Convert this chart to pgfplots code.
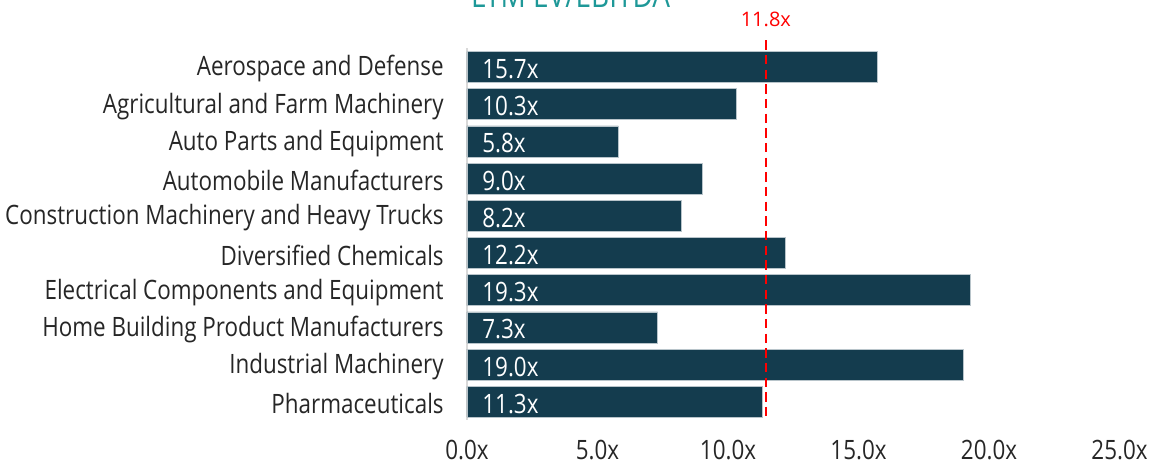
\documentclass[border=0pt]{standalone}
\usepackage{fontspec}
\setmainfont{Open Sans}[FakeStretch=0.84]
\newfontfamily\redfont{Open Sans}
\usepackage{pgfplots}
\pgfplotsset{compat=1.18}
\definecolor{barnavy}{HTML}{143C4E}
\definecolor{titleteal}{HTML}{1E9898}
\definecolor{axisgrey}{HTML}{D9D9D9}

\begin{document}
\begin{tikzpicture}
\path[use as bounding box] (0,0) rectangle (864.75pt,349.5pt);
\node[anchor=base, text=titleteal, font=\fontsize{25}{30}\selectfont] at (428pt,343.5pt) {LTM EV/EBITDA};
\begin{axis}[
    at={(350.25pt,34.2pt)}, anchor=south west,
    scale only axis,
    width=489.4pt, height=279pt,
    xmin=0, xmax=25,
    ymin=-0.5, ymax=9.5,
    y dir=reverse,
    xtick={0,5,10,15,20,25},
    xticklabel={\pgfmathprintnumber[fixed,fixed zerofill,precision=1]{\tick}x},
    /pgf/number format/assume math mode=true,
    ytick={0,...,9},
    yticklabels={Aerospace and Defense, Agricultural and Farm Machinery, Auto Parts and Equipment, Automobile Manufacturers, Construction Machinery and Heavy Trucks, Diversified Chemicals, Electrical Components and Equipment, Home Building Product Manufacturers, Industrial Machinery, Pharmaceuticals},
    axis x line*=bottom,
    x axis line style={draw=none},
    axis y line*=left,
    y axis line style={axisgrey, line width=1pt, -},
    major tick length=0pt,
    tick style={draw=none},
    ticklabel style={font=\fontsize{20}{24}\selectfont, text=black!85},
    yticklabel style={xshift=-14pt, yshift=-1.5pt},
    xticklabel style={yshift=-11pt},
    clip=false,
]
\addplot[xbar, bar width=0.83, fill=barnavy, draw=white!70!barnavy, line width=0.4pt]
    coordinates {
    (15.7,0) (10.3,1) (5.8,2) (9.0,3) (8.2,4)
    (12.2,5) (19.3,6) (7.3,7) (19.0,8) (11.3,9)
    };
\addplot[draw=none, mark=none,
    nodes near coords={\pgfmathprintnumber[fixed,fixed zerofill,precision=1]{\pgfplotspointmeta}x},
    nodes near coords align={anchor=west},
    every node near coord/.append style={text=white, font=\fontsize{20}{24}\selectfont, xshift=8pt, yshift=-1.5pt},
    point meta=explicit]
    coordinates {
    (0,0) [15.7] (0,1) [10.3] (0,2) [5.8] (0,3) [9.0] (0,4) [8.2]
    (0,5) [12.2] (0,6) [19.3] (0,7) [7.3] (0,8) [19.0] (0,9) [11.3]
    };
\addplot[red, line width=1.5pt, dash pattern=on 7pt off 4pt]
    coordinates {(11.45,-0.72) (11.45,9.5)};
\node[text=red, font=\redfont\fontsize{15}{18}\selectfont] at (axis cs:11.45,-1.28) {11.8x};
\end{axis}
\end{tikzpicture}
\end{document}
